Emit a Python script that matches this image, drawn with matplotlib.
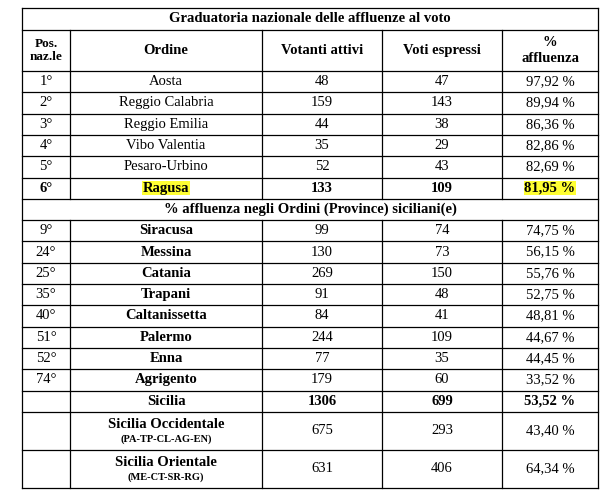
import matplotlib
matplotlib.use("Agg")
import matplotlib.pyplot as plt

title = "Graduatoria nazionale delle affluenze al voto"
subtitle = "% affluenza negli Ordini (Province) siciliani(e)"
headers = ["Pos.\nnaz.le", "Ordine", "Votanti attivi", "Voti espressi", "%\naffluenza"]
pos_nat = ["1°", "2°", "3°", "4°", "5°", "6°"]
ord_nat = ["Aosta", "Reggio Calabria", "Reggio Emilia", "Vibo Valentia", "Pesaro-Urbino", "Ragusa"]
vot_nat = [48, 159, 44, 35, 52, 133]
esp_nat = [47, 143, 38, 29, 43, 109]
pct_nat = ["97,92 %", "89,94 %", "86,36 %", "82,86 %", "82,69 %", "81,95 %"]
pos_sic = ["9°", "24°", "25°", "35°", "40°", "51°", "52°", "74°", ""]
ord_sic = ["Siracusa", "Messina", "Catania", "Trapani", "Caltanissetta", "Palermo", "Enna", "Agrigento", "Sicilia"]
vot_sic = [99, 130, 269, 91, 84, 244, 77, 179, 1306]
esp_sic = [74, 73, 150, 48, 41, 109, 35, 60, 699]
pct_sic = ["74,75 %", "56,15 %", "55,76 %", "52,75 %", "48,81 %", "44,67 %", "44,45 %", "33,52 %", "53,52 %"]
area_names = ["Sicilia Occidentale", "Sicilia Orientale"]
area_sub = ["(PA-TP-CL-AG-EN)", "(ME-CT-SR-RG)"]
area_vot = [675, 631]
area_esp = [293, 406]
area_pct = ["43,40 %", "64,34 %"]

fig = plt.figure(figsize=(6.15, 4.96), dpi=100)
ax = fig.add_axes([0, 0, 1, 1])
ax.set_xlim(0, 615); ax.set_ylim(496, 0); ax.axis("off")
FONT = "Liberation Serif"; FS = 10.5
xs = [22, 70, 262, 382, 502, 598]
cx = [(xs[i] + xs[i+1]) / 2 for i in range(5)]
lw = 0.9

def hline(y, x0=xs[0], x1=xs[-1]):
    ax.plot([x0, x1], [y, y], color="black", lw=lw)
def vline(x, y0, y1):
    ax.plot([x, x], [y0, y1], color="black", lw=lw)
def t(x, y, s, bold=False, size=FS, bg=None):
    kw = {}
    if bg:
        kw["bbox"] = dict(facecolor=bg, edgecolor="none", pad=0.5)
    ax.text(x, y, s, ha="center", va="center", fontfamily=FONT, fontsize=size,
            fontweight="bold" if bold else "normal", **kw)

top, ytit, yhead = 8, 30, 71
rh = 21.3
hline(top); hline(ytit); hline(yhead)
t(310, 19, title, bold=True)
for i, h in enumerate(headers):
    t(cx[i], (ytit + yhead) / 2, h, bold=True, size=FS if i else 9.5)
y = yhead
for i in range(len(ord_nat)):
    last = i == len(ord_nat) - 1
    yc = y + rh / 2
    t(cx[0], yc, pos_nat[i], bold=last)
    t(cx[1], yc, ord_nat[i], bold=last, bg="#ffff33" if last else None)
    t(cx[2], yc, str(vot_nat[i]), bold=last)
    t(cx[3], yc, str(esp_nat[i]), bold=last)
    t(cx[4], yc, pct_nat[i], bold=last, bg="#ffff33" if last else None)
    y += rh
    hline(y)
vline_segments = [(ytit, y)]
ysub0 = y
t(310, y + rh / 2, subtitle, bold=True)
y += rh
hline(y)
seg2 = y
for i in range(len(ord_sic)):
    yc = y + rh / 2
    last = i == len(ord_sic) - 1
    t(cx[0], yc, pos_sic[i])
    t(cx[1], yc, ord_sic[i], bold=True)
    t(cx[2], yc, str(vot_sic[i]), bold=last)
    t(cx[3], yc, str(esp_sic[i]), bold=last)
    t(cx[4], yc, pct_sic[i], bold=last)
    y += rh
    hline(y)
ah = 38
for i in range(len(area_names)):
    yc = y + ah / 2
    ax.text(cx[1], yc - 6, area_names[i], ha="center", va="center", fontfamily=FONT, fontsize=FS, fontweight="bold")
    ax.text(cx[1], yc + 8, area_sub[i], ha="center", va="center", fontfamily=FONT, fontsize=7.5, fontweight="bold")
    t(cx[2], yc, str(area_vot[i]))
    t(cx[3], yc, str(area_esp[i]))
    t(cx[4], yc, area_pct[i])
    y += ah
    hline(y)
vline(xs[0], top, y); vline(xs[-1], top, y)
for x in xs[1:-1]:
    vline(x, ytit, ysub0)
    vline(x, seg2, y)
fig.savefig("out.png", dpi=100)
